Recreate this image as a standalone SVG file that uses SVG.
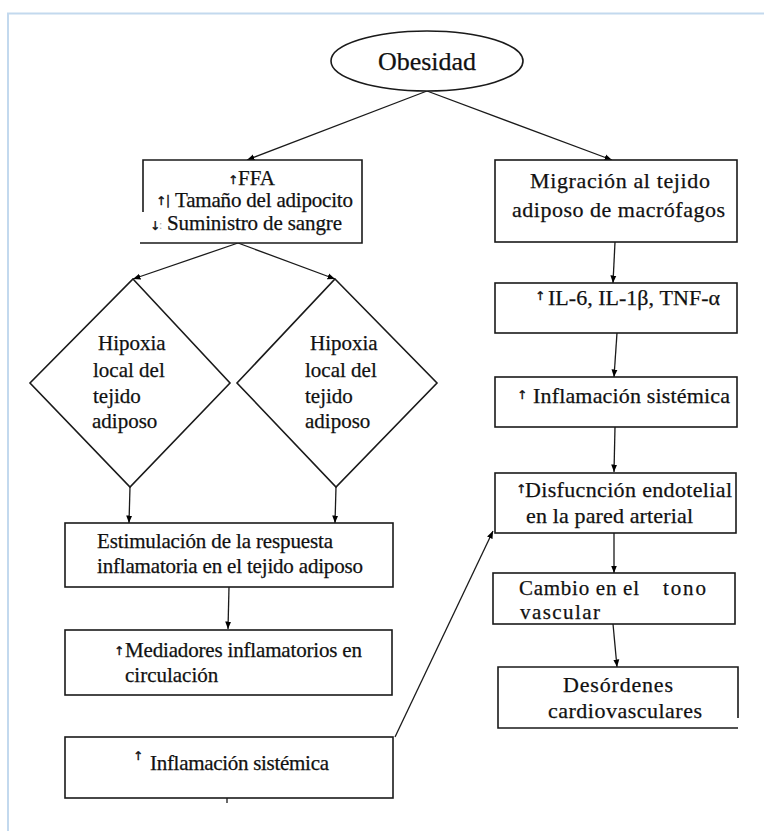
<svg xmlns="http://www.w3.org/2000/svg" width="764" height="831" viewBox="0 0 764 831">
<defs>
<marker id="ah" markerUnits="userSpaceOnUse" markerWidth="8" markerHeight="7" refX="7.5" refY="3.5" orient="auto">
<path d="M0,0.5 L7.5,3.5 L0,6.5 z" fill="#000"/>
</marker>
<style>
.bx{fill:#fff;stroke:#1a1a1a;stroke-width:1.6}
.ln{fill:none;stroke:#1a1a1a;stroke-width:1.3;marker-end:url(#ah)}
.t{font-family:"Liberation Serif","Times New Roman",serif;font-size:21px;fill:#111;stroke:#111;stroke-width:0.25}
.r{font-size:22px}
.ar{font-family:"DejaVu Sans","Liberation Serif",sans-serif;font-size:12px;fill:#111;stroke:#111;stroke-width:0.4}
</style>
</defs>
<rect x="0" y="0" width="764" height="831" fill="#fff"/>
<g id="frame" fill="none" stroke="#c3d9ee" stroke-width="2">
<path d="M8,831 V13.5 H764"/>
</g>
<g id="connectors">
<line class="ln" x1="427" y1="91" x2="247" y2="160"/>
<line class="ln" x1="427" y1="91" x2="612" y2="160"/>
<line class="ln" x1="238" y1="243" x2="133" y2="279"/>
<line class="ln" x1="238" y1="243" x2="335" y2="279"/>
<line class="ln" x1="130" y1="487" x2="129" y2="523"/>
<line class="ln" x1="336" y1="487" x2="335" y2="523"/>
<line class="ln" x1="229" y1="587" x2="228" y2="629"/>
<line class="ln" x1="395" y1="737" x2="493" y2="531"/>
<line class="ln" x1="615" y1="242" x2="613" y2="283"/>
<line class="ln" x1="617" y1="333" x2="614" y2="377"/>
<line class="ln" x1="615" y1="427" x2="614" y2="472"/>
<line class="ln" x1="614" y1="533" x2="614" y2="573"/>
<line class="ln" x1="613" y1="624" x2="617" y2="667"/>
<line x1="227" y1="798" x2="227" y2="803" stroke="#1a1a1a" stroke-width="1.3"/>
</g>
<g id="obesidad">
<ellipse class="bx" cx="427" cy="61" rx="96" ry="30"/>
<text class="t" x="427" y="70" text-anchor="middle" style="font-size:26px">Obesidad</text>
</g>
<g id="ffa">
<path d="M143,212 V160 H362 V243 H140" fill="#fff" stroke="#1a1a1a" stroke-width="1.6"/>
<text class="ar" x="228" y="184">↑</text>
<text class="t" x="238" y="185" textLength="37" lengthAdjust="spacingAndGlyphs">FFA</text>
<text class="ar" x="156" y="205">↑|</text>
<text class="t" x="175" y="207" textLength="178">Tamaño del adipocito</text>
<text class="ar" x="150" y="230">↓</text>
<text x="159" y="229" style="font-family:'Liberation Serif',serif;font-size:12px;fill:#aaa">:</text>
<text class="t" x="167" y="230" textLength="175">Suministro de sangre</text>
</g>
<g id="hipoxia1">
<polygon class="bx" points="133,279 230,383 130,487 30,383"/>
<text class="t" x="98" y="350">Hipoxia</text>
<text class="t" x="93" y="377">local del</text>
<text class="t" x="93" y="403">tejido</text>
<text class="t" x="92" y="428">adiposo</text>
</g>
<g id="hipoxia2">
<polygon class="bx" points="335,279 437,383 336,487 237,383"/>
<text class="t" x="310" y="350">Hipoxia</text>
<text class="t" x="305" y="377">local del</text>
<text class="t" x="305" y="403">tejido</text>
<text class="t" x="305" y="428">adiposo</text>
</g>
<g id="estimulacion">
<rect class="bx" x="65" y="523" width="328" height="64"/>
<text class="t" x="97" y="548" textLength="236">Estimulación de la respuesta</text>
<text class="t" x="97" y="573" textLength="266">inflamatoria en el tejido adiposo</text>
</g>
<g id="mediadores">
<rect class="bx" x="65" y="630" width="327" height="65"/>
<text class="ar" x="114" y="655">↑</text>
<text class="t" x="125" y="657" textLength="237">Mediadores inflamatorios en</text>
<text class="t" x="125" y="682">circulación</text>
</g>
<g id="inflamacion1">
<rect class="bx" x="65" y="737" width="328" height="61"/>
<text class="ar" x="133" y="760">↑</text>
<text class="t" x="150" y="770" textLength="179">Inflamación sistémica</text>
</g>
<g id="migracion">
<rect class="bx" x="495" y="160" width="242" height="82"/>
<text class="t r" x="530" y="188" textLength="180">Migración al tejido</text>
<text class="t r" x="512" y="217" textLength="213">adiposo de macrófagos</text>
</g>
<g id="il6">
<rect class="bx" x="495" y="283" width="242" height="50"/>
<text class="ar" x="535" y="300">↑</text>
<text class="t r" x="548" y="305" textLength="172">IL-6, IL-1β, TNF-α</text>
</g>
<g id="inflamacion2">
<rect class="bx" x="495" y="377" width="242" height="50"/>
<text class="ar" x="517" y="399">↑</text>
<text class="t r" x="533" y="403" textLength="197">Inflamación sistémica</text>
</g>
<g id="disfuncion">
<rect class="bx" x="495" y="473" width="241" height="60"/>
<text class="ar" x="516" y="493">↑</text>
<text class="t r" x="525" y="497" textLength="207">Disfucnción endotelial</text>
<text class="t r" x="526" y="523" textLength="167">en la pared arterial</text>
</g>
<g id="cambio">
<rect class="bx" x="493" y="573" width="242" height="51"/>
<text class="t" x="519" y="595" textLength="120">Cambio en el</text>
<text class="t" x="663" y="595" textLength="43">tono</text>
<text class="t" x="520" y="619" textLength="80">vascular</text>
</g>
<g id="desordenes">
<path d="M738,718 V667 H498 V728 H738" fill="#fff" stroke="#1a1a1a" stroke-width="1.6"/>
<text class="t r" x="563" y="692" textLength="110">Desórdenes</text>
<text class="t r" x="548" y="718" textLength="154">cardiovasculares</text>
</g>
</svg>
